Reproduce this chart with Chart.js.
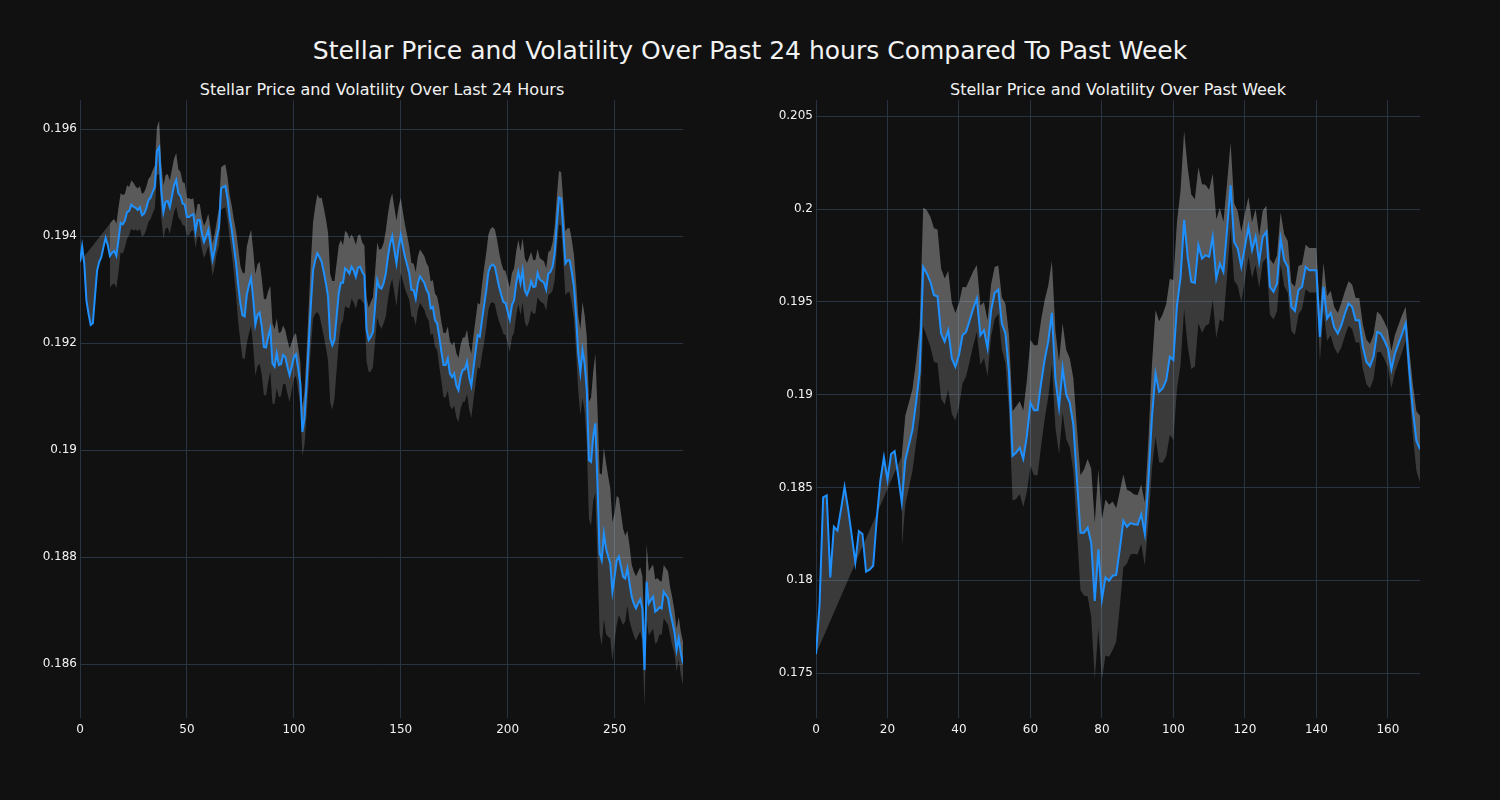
<!DOCTYPE html>
<html>
<head>
<meta charset="utf-8">
<script src="https://cdn.jsdelivr.net/npm/chart.js@4.4.1/dist/chart.umd.min.js"></script>
<style>
  html, body { margin:0; padding:0; background:#111111; width:1500px; height:800px; overflow:hidden; }
  .t { position:absolute; color:#f2f2f2; font-family:"DejaVu Sans", sans-serif; white-space:nowrap; transform:translate(-50%,-50%); }
  canvas { position:absolute; }
</style>
</head>
<body>
<div class="t" style="left:750px; top:50px; font-size:25px;">Stellar Price and Volatility Over Past 24 hours Compared To Past Week</div>
<div class="t" style="left:382px; top:89px; font-size:16px;">Stellar Price and Volatility Over Last 24 Hours</div>
<div class="t" style="left:1118px; top:89px; font-size:16px;">Stellar Price and Volatility Over Past Week</div>
<canvas id="c1" style="left:0px; top:90px; width:710px; height:668px;" width="710" height="668"></canvas>
<canvas id="c2" style="left:740px; top:90px; width:710px; height:668px;" width="710" height="668"></canvas>
<script>
// ---------- Last 24 hours (index 0..282) ----------
const priceDay = [
0.19352,0.19381,0.19349,0.19280,0.19255,0.19234,0.19237,0.19287,0.19336,0.19352,
0.19361,0.19380,0.19397,0.19383,0.19363,0.19369,0.19372,0.19363,0.19393,0.19425,
0.19422,0.19429,0.19445,0.19447,0.19459,0.19455,0.19453,0.19449,0.19454,0.19439,
0.19442,0.19452,0.19467,0.19472,0.19483,0.19492,0.19559,0.19566,0.19486,0.19445,
0.19464,0.19466,0.19454,0.19475,0.19495,0.19505,0.19480,0.19475,0.19461,0.19459,
0.19436,0.19436,0.19439,0.19441,0.19408,0.19430,0.19430,0.19405,0.19389,0.19399,
0.19412,0.19386,0.19356,0.19374,0.19399,0.19417,0.19489,0.19492,0.19494,0.19470,
0.19436,0.19411,0.19380,0.19349,0.19308,0.19274,0.19252,0.19250,0.19290,0.19308,
0.19322,0.19283,0.19234,0.19252,0.19257,0.19231,0.19193,0.19192,0.19212,0.19227,
0.19162,0.19156,0.19181,0.19159,0.19161,0.19178,0.19174,0.19156,0.19140,0.19156,
0.19174,0.19179,0.19153,0.19125,0.19034,0.19060,0.19125,0.19199,0.19274,0.19336,
0.19355,0.19368,0.19361,0.19352,0.19333,0.19312,0.19287,0.19209,0.19196,0.19206,
0.19249,0.19293,0.19313,0.19313,0.19340,0.19336,0.19330,0.19343,0.19336,0.19324,
0.19341,0.19343,0.19333,0.19327,0.19226,0.19206,0.19212,0.19221,0.19268,0.19318,
0.19304,0.19302,0.19312,0.19330,0.19361,0.19386,0.19400,0.19374,0.19349,0.19380,
0.19402,0.19380,0.19361,0.19346,0.19330,0.19300,0.19299,0.19283,0.19312,0.19325,
0.19319,0.19313,0.19300,0.19293,0.19265,0.19268,0.19243,0.19237,0.19212,0.19184,
0.19159,0.19159,0.19171,0.19143,0.19136,0.19143,0.19121,0.19112,0.19137,0.19150,
0.19151,0.19165,0.19136,0.19120,0.19153,0.19184,0.19215,0.19212,0.19243,0.19271,
0.19299,0.19333,0.19344,0.19347,0.19343,0.19324,0.19305,0.19290,0.19277,0.19275,
0.19259,0.19244,0.19271,0.19280,0.19312,0.19333,0.19312,0.19336,0.19299,0.19290,
0.19300,0.19316,0.19305,0.19306,0.19331,0.19319,0.19316,0.19313,0.19300,0.19330,
0.19333,0.19343,0.19368,0.19424,0.19472,0.19470,0.19411,0.19349,0.19355,0.19355,
0.19333,0.19305,0.19249,0.19181,0.19145,0.19187,0.19162,0.19112,0.18981,0.18978,
0.19025,0.19050,0.18938,0.18807,0.18794,0.18844,0.18816,0.18801,0.18788,0.18735,
0.18763,0.18794,0.18801,0.18782,0.18763,0.18760,0.18779,0.18751,0.18726,0.18713,
0.18704,0.18713,0.18721,0.18704,0.18589,0.18754,0.18713,0.18720,0.18726,0.18698,
0.18701,0.18706,0.18704,0.18735,0.18729,0.18723,0.18698,0.18679,0.18660,0.18626,
0.18648,0.18620,0.18601
];
const volDay = [
null,null,null,null,null,null,null,null,null,null,
null,null,null,null,0.00060,0.00060,0.00060,0.00060,0.00060,0.00055,
0.00055,0.00050,0.00050,0.00045,0.00045,0.00045,0.00040,0.00040,0.00040,0.00040,
0.00040,0.00040,0.00040,0.00040,0.00040,0.00040,0.00045,0.00050,0.00050,0.00050,
0.00050,0.00050,0.00050,0.00050,0.00050,0.00050,0.00045,0.00045,0.00040,0.00040,
0.00035,0.00035,0.00030,0.00030,0.00030,0.00030,0.00030,0.00030,0.00030,0.00030,
0.00030,0.00030,0.00030,0.00030,0.00030,0.00035,0.00040,0.00040,0.00040,0.00040,
0.00040,0.00045,0.00050,0.00060,0.00070,0.00070,0.00080,0.00080,0.00090,0.00090,
0.00090,0.00090,0.00095,0.00095,0.00095,0.00090,0.00090,0.00090,0.00085,0.00080,
0.00075,0.00070,0.00065,0.00060,0.00060,0.00055,0.00050,0.00050,0.00050,0.00045,
0.00040,0.00040,0.00040,0.00040,0.00045,0.00050,0.00060,0.00070,0.00080,0.00090,
0.00100,0.00110,0.00110,0.00120,0.00120,0.00120,0.00120,0.00120,0.00120,0.00110,
0.00100,0.00090,0.00080,0.00070,0.00070,0.00070,0.00065,0.00060,0.00060,0.00060,
0.00060,0.00060,0.00055,0.00055,0.00060,0.00060,0.00065,0.00065,0.00065,0.00070,
0.00070,0.00075,0.00075,0.00080,0.00080,0.00080,0.00080,0.00080,0.00080,0.00075,
0.00070,0.00065,0.00060,0.00055,0.00050,0.00050,0.00050,0.00050,0.00050,0.00050,
0.00050,0.00050,0.00050,0.00050,0.00050,0.00050,0.00050,0.00050,0.00055,0.00055,
0.00060,0.00060,0.00060,0.00060,0.00060,0.00060,0.00060,0.00060,0.00060,0.00060,
0.00060,0.00060,0.00060,0.00060,0.00060,0.00060,0.00060,0.00060,0.00065,0.00070,
0.00070,0.00070,0.00070,0.00070,0.00070,0.00070,0.00065,0.00060,0.00060,0.00060,
0.00060,0.00060,0.00060,0.00060,0.00060,0.00060,0.00060,0.00060,0.00060,0.00060,
0.00060,0.00055,0.00050,0.00050,0.00045,0.00040,0.00040,0.00040,0.00040,0.00040,
0.00040,0.00045,0.00050,0.00050,0.00050,0.00050,0.00055,0.00060,0.00060,0.00060,
0.00060,0.00060,0.00065,0.00070,0.00080,0.00090,0.00090,0.00100,0.00110,0.00120,
0.00120,0.00130,0.00140,0.00150,0.00160,0.00160,0.00160,0.00150,0.00140,0.00130,
0.00120,0.00120,0.00110,0.00100,0.00090,0.00080,0.00070,0.00070,0.00060,0.00060,
0.00060,0.00060,0.00060,0.00060,0.00070,0.00070,0.00060,0.00060,0.00060,0.00060,
0.00060,0.00050,0.00050,0.00050,0.00050,0.00050,0.00045,0.00045,0.00040,0.00040,
0.00040,0.00040,0.00040
];
const xTicksDay = [0, 50, 100, 150, 200, 250];
const yTicksDay = [0.186, 0.188, 0.19, 0.192, 0.194, 0.196];
const yTickLabelsDay = ["0.186", "0.188", "0.19", "0.192", "0.194", "0.196"];

// ---------- Past week (index 0..169) ----------
const priceWeek = [
0.17602,0.17870,0.18446,0.18457,0.18015,0.18288,0.18267,0.18383,0.18503,0.18383,
0.18240,0.18096,0.18264,0.18249,0.18046,0.18057,0.18078,0.18330,0.18536,0.18662,
0.18540,0.18680,0.18695,0.18563,0.18419,0.18648,0.18728,0.18810,0.18958,0.19120,
0.19688,0.19653,0.19608,0.19536,0.19530,0.19329,0.19285,0.19347,0.19195,0.19150,
0.19213,0.19320,0.19338,0.19401,0.19464,0.19518,0.19320,0.19347,0.19249,0.19455,
0.19548,0.19566,0.19383,0.19329,0.19120,0.18670,0.18687,0.18714,0.18654,0.18776,
0.18956,0.18916,0.18916,0.19064,0.19190,0.19288,0.19441,0.19082,0.18929,0.19144,
0.19001,0.18956,0.18839,0.18543,0.18256,0.18256,0.18283,0.18202,0.17888,0.18166,
0.17897,0.18015,0.17997,0.18024,0.18028,0.18168,0.18320,0.18288,0.18308,0.18302,
0.18299,0.18356,0.18249,0.18527,0.18880,0.19114,0.19015,0.19033,0.19078,0.19204,
0.19186,0.19480,0.19630,0.19940,0.19742,0.19608,0.19602,0.19805,0.19733,0.19751,
0.19742,0.19850,0.19625,0.19706,0.19661,0.19885,0.20128,0.19823,0.19787,0.19688,
0.19796,0.19904,0.19778,0.19850,0.19715,0.19850,0.19877,0.19581,0.19554,0.19599,
0.19841,0.19724,0.19688,0.19473,0.19451,0.19563,0.19581,0.19688,0.19670,0.19670,
0.19670,0.19311,0.19581,0.19410,0.19440,0.19362,0.19329,0.19374,0.19437,0.19491,
0.19473,0.19401,0.19401,0.19258,0.19177,0.19153,0.19204,0.19338,0.19329,0.19293,
0.19249,0.19135,0.19222,0.19276,0.19329,0.19383,0.19132,0.18916,0.18750,0.18706
];
const volWeek = [
null,null,null,null,null,null,null,null,null,null,
null,null,null,null,null,null,null,null,null,null,
null,null,null,null,0.0025,0.0024,0.0023,0.0022,0.0022,0.0024,
0.0032,0.0034,0.0035,0.0036,0.0036,0.0035,0.0034,0.0032,0.0030,0.0029,
0.0028,0.0026,0.0024,0.0022,0.0020,0.0018,0.0016,0.0015,0.0015,0.0014,
0.0014,0.0013,0.0014,0.0016,0.0020,0.0024,0.0025,0.0025,0.0026,0.0030,
0.0034,0.0035,0.0035,0.0034,0.0032,0.0030,0.0028,0.0026,0.0025,0.0024,
0.0024,0.0024,0.0025,0.0028,0.0031,0.0034,0.0037,0.0040,0.0042,0.0043,
0.0043,0.0042,0.0041,0.0040,0.0036,0.0031,0.0025,0.0020,0.0017,0.0016,
0.0016,0.0016,0.0017,0.0022,0.0028,0.0034,0.0038,0.0040,0.0041,0.0042,
0.0043,0.0045,0.0047,0.0048,0.0048,0.0047,0.0045,0.0042,0.0040,0.0038,
0.0036,0.0034,0.0032,0.0030,0.0027,0.0025,0.0023,0.0021,0.0020,0.0019,
0.0018,0.0016,0.0015,0.0015,0.0014,0.0014,0.0014,0.0015,0.0015,0.0015,
0.0014,0.0014,0.0014,0.0013,0.0013,0.0013,0.0012,0.0012,0.0012,0.0012,
0.0012,0.0013,0.0013,0.0012,0.0012,0.0011,0.0011,0.0012,0.0012,0.0012,
0.0012,0.0012,0.0012,0.0012,0.0012,0.0012,0.0012,0.0011,0.0010,0.0010,
0.0010,0.0010,0.0010,0.0010,0.0010,0.0009,0.0011,0.0014,0.0016,0.0018
];
const xTicksWeek = [0, 20, 40, 60, 80, 100, 120, 140, 160];
const yTicksWeek = [0.175, 0.18, 0.185, 0.19, 0.195, 0.2, 0.205];
const yTickLabelsWeek = ["0.175", "0.18", "0.185", "0.19", "0.195", "0.2", "0.205"];

const LINE = '#1e90ff';
const BAND = 'rgba(205,205,205,0.22)';
const GRID = '#283442';
const TXT = '#f2f2f2';
const FONT = "'DejaVu Sans', sans-serif";

function buildDatasets(price, vol) {
  const line = price.map((p, i) => ({x: i, y: p}));
  const upper = [{x: 0, y: price[0]}];
  const lower = [];
  vol.forEach((v, i) => {
    if (v === null) return;
    upper.push({x: i, y: price[i] + v});
    lower.push({x: i, y: price[i] - v});
  });
  return [
    {data: line, borderColor: LINE, borderWidth: 2, pointRadius: 0, fill: false, tension: 0},
    {data: upper, borderWidth: 0, borderColor: 'rgba(0,0,0,0)', backgroundColor: BAND, pointRadius: 0, fill: '-1', tension: 0},
    {data: lower, borderWidth: 0, borderColor: 'rgba(0,0,0,0)', backgroundColor: BAND, pointRadius: 0, fill: '-1', tension: 0}
  ];
}

function makeChart(id, price, vol, xTicks, yTicks, yLabels, xMax, yMin, yMax, yWidth, padRight) {
  new Chart(document.getElementById(id), {
    type: 'line',
    data: {datasets: buildDatasets(price, vol)},
    options: {
      responsive: false,
      animation: false,
      events: [],
      layout: {padding: {top: 10, right: padRight, left: 0, bottom: 0}},
      plugins: {legend: {display: false}, tooltip: {enabled: false}},
      scales: {
        x: {
          type: 'linear', min: 0, max: xMax,
          grid: {color: GRID, lineWidth: 1, drawTicks: false},
          border: {display: false},
          ticks: {color: TXT, font: {family: FONT, size: 12}, padding: 5, maxRotation: 0, autoSkip: false},
          afterBuildTicks: s => { s.ticks = xTicks.map(v => ({value: v})); },
          afterFit: s => { s.height = 40; }
        },
        y: {
          type: 'linear', min: yMin, max: yMax,
          grid: {color: GRID, lineWidth: 1, drawTicks: false},
          border: {display: false},
          ticks: {color: TXT, font: {family: FONT, size: 12}, padding: 3, autoSkip: false,
                  callback: (v) => { const k = yTicks.findIndex(t => Math.abs(t - v) < 1e-9); return k >= 0 ? yLabels[k] : ''; }},
          afterBuildTicks: s => { s.ticks = yTicks.map(v => ({value: v})); },
          afterFit: s => { s.width = yWidth; }
        }
      }
    }
  });
}

makeChart('c1', priceDay, volDay, xTicksDay, yTicksDay, yTickLabelsDay, 282, 0.184991, 0.196542, 80, 27);
makeChart('c2', priceWeek, volWeek, xTicksWeek, yTicksWeek, yTickLabelsWeek, 169, 0.172576, 0.205862, 76, 30);
</script>
</body>
</html>
